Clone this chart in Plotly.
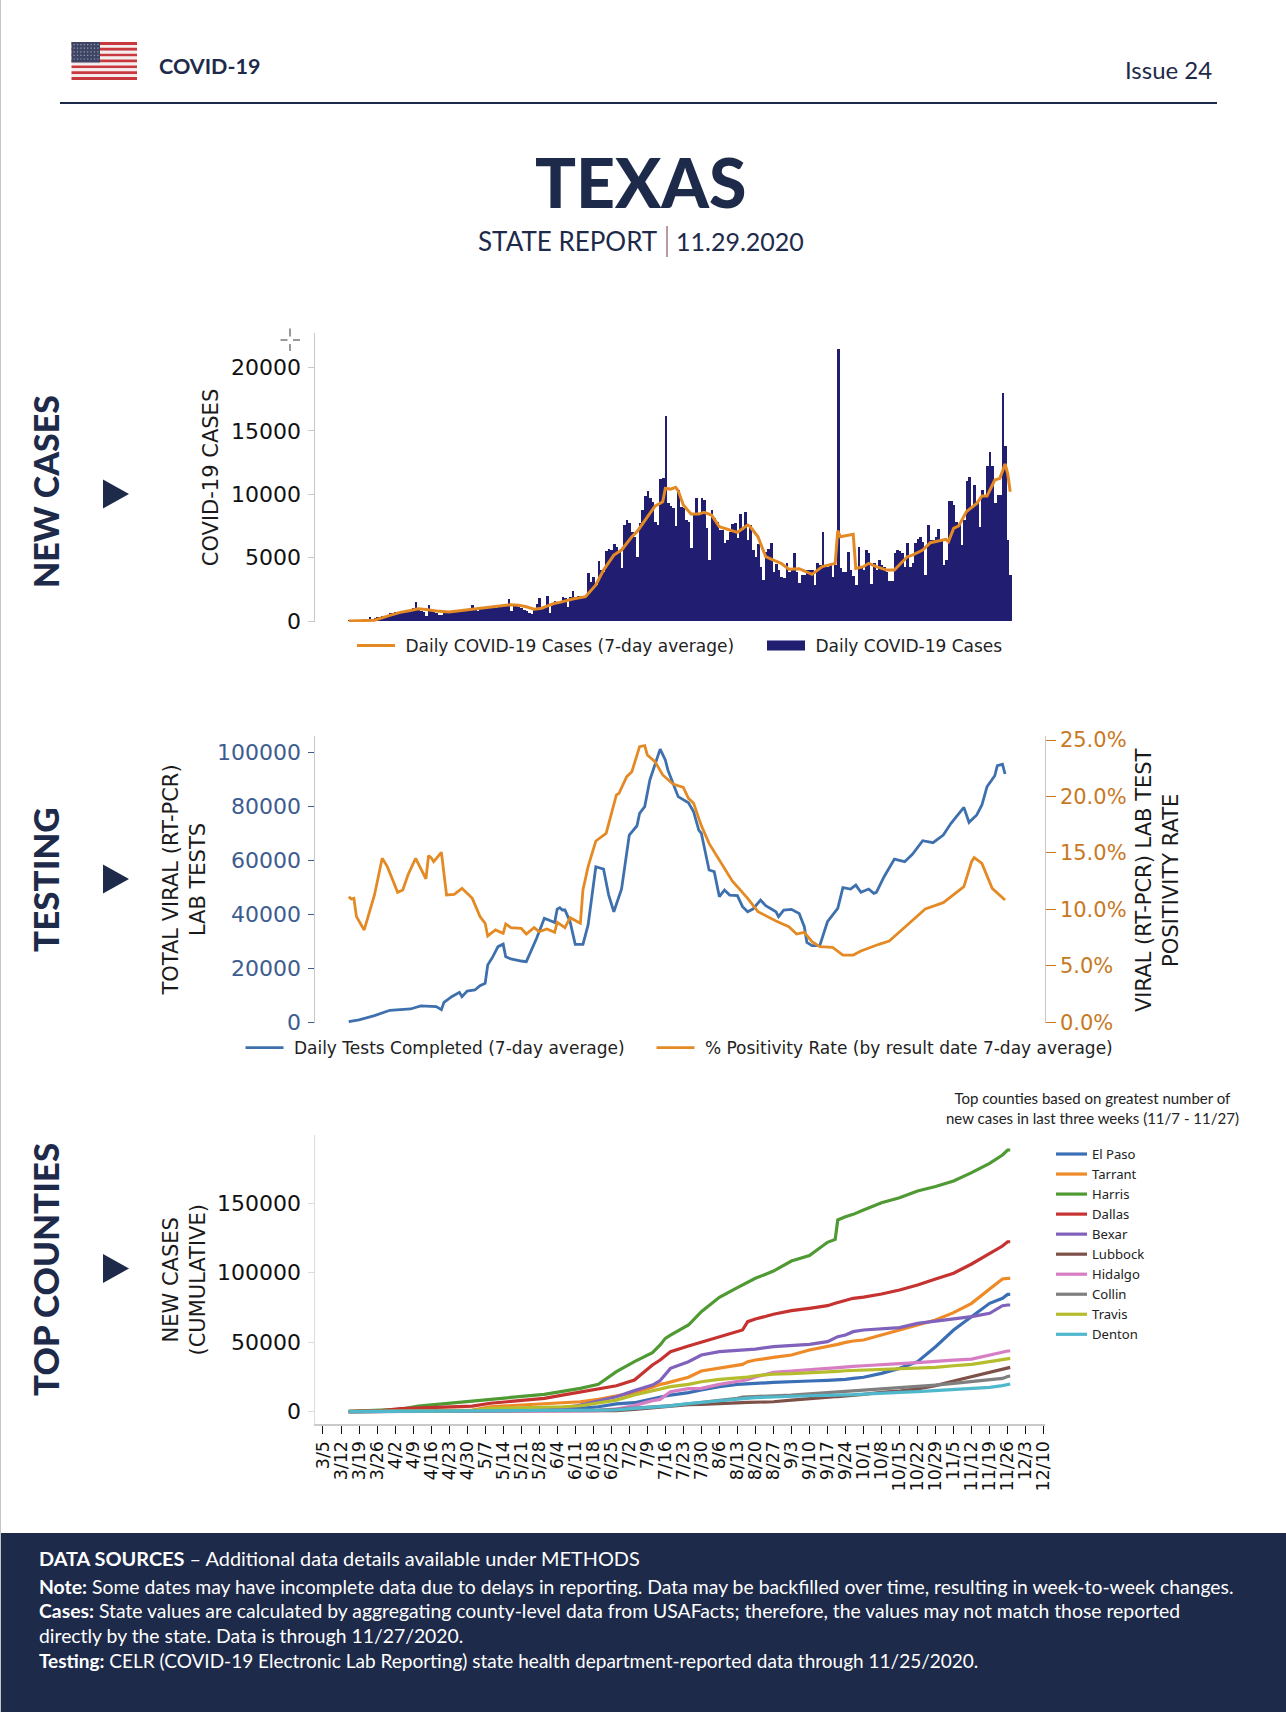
import pandas as pd
import plotly.graph_objects as go

W, H = 1286, 1712
START = pd.Timestamp("2020-03-05")

# ---------- data: days are counted from 3/5/2020 ----------
week_labels = ["3/5","3/12","3/19","3/26","4/2","4/9","4/16","4/23","4/30","5/7","5/14","5/21","5/28","6/4",
               "6/11","6/18","6/25","7/2","7/9","7/16","7/23","7/30","8/6","8/13","8/20","8/27","9/3","9/10",
               "9/17","9/24","10/1","10/8","10/15","10/22","10/29","11/5","11/12","11/19","11/26","12/3","12/10"]
positivity_tick_labels = ["0.0%","5.0%","10.0%","15.0%","20.0%","25.0%"]
positivity_tick_values = [0,5,10,15,20,25]

daily_cases_first_day = 10
daily_cases = [20,30,40,50,60,40,80,90,300,160,250,280,320,400,420,500,620,650,680,750,
 720,650,680,850,870,1000,1470,900,800,720,430,1240,800,780,650,470,450,800,780,720,
 760,900,850,870,900,900,950,980,1230,950,820,1050,1080,1100,1100,1150,1100,1020,1250,1230,
 1220,1280,1710,800,1180,1150,1100,1050,900,780,620,570,900,1380,1830,1050,1190,1960,660,1330,
 1600,1500,
 1525,1920,1790,1130,1920,2390,1920,2000,2000,1790,1920,3760,3100,3445,2840,4730,4020,3890,5550,5650,
 5600,6050,5810,5470,4155,7570,7970,7760,7050,6650,5075,7760,8760,9860,10280,9680,9415,7840,7570,11180,
 11260,16170,9285,9100,8890,7500,10335,9020,8890,7970,7840,5730,8495,9680,8495,9680,9550,7310,4810,8760,
 8100,7840,7180,7180,6130,6390,7050,7650,7700,6520,8440,7180,8630,6390,7570,5600,5075,6075,4290,3235,
 5470,5650,6130,3890,4500,4020,3445,3365,4550,3890,4020,5340,3890,2970,3630,3630,4020,4020,4020,2840,
 4550,4420,7050,4290,4290,4420,3500,4420,21500,4155,3890,3890,5470,4020,3550,2840,5865,4155,4020,5600,
 5340,2890,4550,4020,4810,4420,4290,3890,3180,3180,5340,5600,5550,5340,4290,6130,4290,4600,6130,6440,
 6600,6260,3630,7570,6390,6390,6650,7230,6390,4420,4810,9490,9490,9150,7840,7570,6000,7970,11070,11390,
 9020,10730,9285,7440,10340,9940,12230,13360,12230,9285,9940,9940,17960,13800,6390,3630]

case_avg_day = [10,18,20,25,30,34,37,40,44,49,55,60,65,70,73,76,79,82,85,87,90,92,97,102,106,109,113,116,120,122,
 126,129,132,133,135,137,138,140,143,146,148,151,154,156,159,161,165,166,169,172,175,178,181,185,190,194,
 199,200,201,206,207,210,212,215,219,222,227,229,233,236,242,243,245,247,250,254,256,258,261,263,265,266,267]
case_avg = [0,10,60,380,680,830,960,900,790,720,870,970,1080,1200,1290,1240,1120,930,1010,1180,1400,1470,1735,1920,2840,4020,
 5200,5600,6650,7050,8230,9070,9415,10470,10410,10550,10280,9150,8440,8440,8570,8360,7440,7310,7130,7000,7570,7440,6650,5075,4810,4550,4080,4130,3680,4290,
 4550,7130,6650,6840,4155,4290,4550,4290,4020,4020,5075,5200,5600,6180,6440,6260,7310,7500,8630,9285,9860,9860,11125,11260,12390,11650,10200]

tests_day = [10,14,20,26,34,38,44,46,47,50,53,54,56,59,61,63,64,66,68,70,71,73,77,79,83,86,87,90,91,92,93,94,96,98,100,101,103,106,109,111,113,115,116,119,122,123,125,127,129,131,133,134,138,
 142,144,146,147,150,152,154,156,158,161,163,165,167,170,172,176,177,179,182,185,187,188,190,193,196,200,202,205,207,209,212,214,215,218,222,226,229,233,237,241,244,249,251,254,256,258,261,262,264,265]
tests = [250,870,2470,4450,4940,6060,5810,4700,7400,9500,11100,9500,11600,12000,13600,14460,21260,24350,28060,29000,24350,23500,22740,22500,31150,38560,38200,37000,42000,42500,41650,41650,37300,28900,28900,28900,36100,57700,56850,47200,41000,47200,49440,69460,72900,77500,80000,89900,96000,101350,97300,93600,83700,
 81450,78100,71300,70100,56500,55900,46600,49070,47200,47000,42900,41000,42000,45360,43260,41000,39180,41650,41900,40400,35470,29660,28430,28430,37300,42270,49930,49440,50900,48200,49440,47830,48200,54000,60560,59570,62300,67360,66620,69460,73800,79720,74160,76900,80600,87400,91460,95200,95700,92100]

positivity_day = [10,11,12,13,16,18,20,23,25,29,31,33,36,40,41,42,43,46,48,51,54,58,61,63,64,67,70,71,73,77,79,82,84,87,90,91,94,96,100,101,103,106,110,114,115,118,120,123,125,126,129,132,136,140,
 142,144,147,150,156,159,165,169,176,181,184,187,190,193,198,202,206,209,216,220,227,234,241,249,252,253,256,260,265]
positivity = [11.13,10.92,10.98,9.36,8.18,9.8,11.28,14.53,13.79,11.51,11.72,13.05,14.53,12.7,14.76,14.59,14.23,15.06,11.28,11.34,11.87,10.98,9.36,8.77,7.65,8.18,7.88,8.71,8.39,8.33,7.82,8.39,8.03,8.27,7.97,8.86,8.39,9.27,8.77,11.72,13.79,16.06,16.74,20.14,20.28,21.76,22.2,24.42,24.5,23.68,23.09,21.91,21.11,20.8,
 19.84,19.4,17.42,15.85,13.64,12.52,10.98,9.8,8.98,8.47,7.82,7.97,7.15,6.7,6.64,5.96,5.96,6.32,6.91,7.2,8.62,10.04,10.6,12.02,14.23,14.59,14.08,11.87,10.84]

county_day = [10,16,22,30,37,44,51,58,65,72,79,86,93,100,107,114,121,128,131,133,135,142,
 147,154,161,163,165,168,175,182,189,196,199,200,203,206,210,217,224,231,238,245,252,259,264,266,267]
el_paso = [10,30,60,100,150,200,300,400,500,600,800,1150,1600,2350,3500,5500,6400,9500,10300,11200,11800,13600,
 15500,17900,19600,19900,20100,20300,21000,21300,22000,22500,22700,22700,23200,23900,24700,27500,31100,35900,46700,58700,68300,77900,81500,84300,84300]
tarrant = [50,150,300,500,700,850,1000,1150,3500,4200,5000,5500,6400,7100,8800,11200,13600,17500,19600,20300,21300,24700,
 29200,31100,33500,34000,35900,37100,39000,40700,44300,46700,47900,48400,49800,50800,51500,55100,58700,62800,65900,71200,77900,88200,95400,95900,95900]
harris = [100,500,1000,1600,4000,5200,6400,7100,8300,9500,11200,12400,14600,16700,19600,28700,36000,42400,48000,52700,55000,62300,
 71900,82200,89200,91100,93500,95900,101100,108300,112200,121800,123900,137900,140200,141900,145000,150300,153900,158700,161900,165900,171900,178600,184600,188200,188200]
dallas = [100,300,600,2100,2600,3000,3500,4000,6000,7100,8300,9500,11900,14300,16700,18600,22700,33500,37100,40000,43100,47200,
 49800,53900,57500,58700,64700,66600,70000,72600,74300,76200,77900,78400,79600,81500,82400,84600,87500,91100,95400,99500,106200,113900,119100,122200,122200]
bexar = [20,60,150,300,400,500,600,700,800,900,1000,1150,2300,4700,7900,10700,15100,19100,22300,27000,31100,35900,
 40700,43100,44100,44300,44300,45000,46700,47400,48400,50300,52700,53900,55100,57500,58700,59400,60400,63500,65200,67100,68300,70700,76200,76700,76700]
lubbock = [5,10,20,50,80,100,120,140,160,180,200,250,350,450,550,700,1600,2800,3200,3600,4000,5000,
 5200,6000,6400,6500,6600,6700,7100,8300,9500,10300,10700,10800,11200,11700,12400,13900,14800,16300,18700,22000,25100,28200,30400,31800,31800]
hidalgo = [5,10,20,40,60,80,100,120,140,160,180,200,300,450,700,1900,4300,7900,8800,11900,14300,16500,
 16700,19600,22000,22400,22900,24900,28200,29200,29900,31100,31500,31700,32100,32500,33000,34000,34500,35200,36400,37100,37800,40700,43100,43600,43600]
collin = [30,80,150,250,350,450,500,600,650,700,750,800,900,1000,1150,1600,2800,3500,3800,4000,4300,5500,
 6500,7600,9500,10500,10600,10900,11200,11900,12700,13600,13800,13900,14300,14600,15000,16200,17200,17900,19100,20300,21500,22700,23900,25300,25600]
travis = [20,60,120,250,400,500,600,800,2300,2500,2800,3100,3500,4200,6400,8300,11900,15100,16300,17500,18000,19600,
 21500,23200,23900,24300,24800,25800,27000,27300,27800,28700,28900,29000,29400,29600,29900,30400,31100,31600,31800,33000,34000,35900,37400,38300,38300]
denton = [20,60,120,200,300,350,400,450,500,550,600,700,800,950,1100,1150,2300,3300,3500,3800,4100,5800,
 6600,7800,9000,9200,9400,10000,10500,11200,11400,11700,11750,11800,11900,12200,12600,13400,13900,14300,15000,15500,16200,17400,18700,19600,19900]

county_names = ["El Paso","Tarrant","Harris","Dallas","Bexar","Lubbock","Hidalgo","Collin","Travis","Denton"]
county_values = [el_paso,tarrant,harris,dallas,bexar,lubbock,hidalgo,collin,travis,denton]
county_colors = ["#3b6fb5","#ee8a27","#4f9a33","#c5322f","#8062bd","#7d5148","#d77dc3","#7f7f7f","#b5bd2c","#4fb8cd"]

for a, b in [(case_avg_day, case_avg), (tests_day, tests), (positivity_day, positivity)] + [(county_day, v) for v in county_values]:
    assert len(a) == len(b), (len(a), len(b))

# ---------- styles ----------
NAVY = "#1e2a4a"
BAR = "#211d70"
ORANGE = "#e48a25"
BLUE = "#3f70ae"
SANS = "Lato, 'Noto Sans', sans-serif"
DEJA = "DejaVu Sans"
SPINE = "#c9c9c9"

def dates(days):
    return [START + pd.Timedelta(days=float(d)) for d in days]

def px(x): return x / W
def py(y): return 1 - y / H

X_LEFT, X_RIGHT = 314.5, 1044.7
x_range = dates([-3.3, 280.4])
NB = "\u00a0"

fig = go.Figure()

# panel 1
fig.add_trace(go.Scatter(x=dates(case_avg_day), y=case_avg, mode="lines", name=NB + "Daily COVID-19 Cases (7-day average)",
                         line=dict(color=ORANGE, width=3), xaxis="x", yaxis="y", legend="legend"))
fig.add_trace(go.Bar(x=dates(range(daily_cases_first_day, daily_cases_first_day + len(daily_cases))), y=daily_cases,
                     name="Daily COVID-19 Cases", marker=dict(color=BAR, line=dict(width=0)), xaxis="x", yaxis="y",
                     showlegend=False))
# legend key for the bars: a wide patch like the reference (no data of its own)
fig.add_trace(go.Scatter(x=[None], y=[None], mode="lines", name=NB + "Daily COVID-19 Cases",
                         line=dict(color=BAR, width=12), xaxis="x", yaxis="y", legend="legend4"))
# panel 2
fig.add_trace(go.Scatter(x=dates(tests_day), y=tests, mode="lines", name=NB + "Daily Tests Completed (7-day average)",
                         line=dict(color=BLUE, width=2.8), xaxis="x2", yaxis="y2", legend="legend2"))
fig.add_trace(go.Scatter(x=dates(positivity_day), y=positivity, mode="lines", name=NB + "% Positivity Rate (by result date 7-day average)",
                         line=dict(color=ORANGE, width=2.8), xaxis="x2", yaxis="y3", legend="legend5"))
# panel 3
for name, vals, col in zip(county_names, county_values, county_colors):
    fig.add_trace(go.Scatter(x=dates(county_day), y=vals, mode="lines", name=name,
                             line=dict(color=col, width=3.2), xaxis="x3", yaxis="y4", legend="legend3"))

dom_x = [px(X_LEFT), px(X_RIGHT)]
hidden_x = dict(type="date", range=x_range, domain=dom_x, visible=False, fixedrange=True)
tick_font = dict(family=DEJA, size=22, color="#111111")
title_font = dict(family=DEJA, size=21, color="#1a1a1a")
legend_font = dict(family=DEJA, size=17, color="#222222")

def one_item_legend(x, y):
    return dict(orientation="h", x=px(x), y=py(y), xanchor="left", yanchor="middle", font=legend_font,
                itemwidth=38, bgcolor="rgba(0,0,0,0)")

layout = dict(
    width=W, height=H, margin=dict(l=0, r=0, t=0, b=0, autoexpand=False), paper_bgcolor="white", plot_bgcolor="rgba(0,0,0,0)",
    bargap=0, showlegend=True, hovermode=False,
    xaxis=dict(anchor="y", **hidden_x),
    yaxis=dict(domain=[py(622), py(333)], range=[-79, 22730], tickvals=[0,5000,10000,15000,20000], tickformat="d",
               tickfont=tick_font, ticks="outside", ticklen=6, tickcolor=SPINE, ticklabelstandoff=2, showline=True, linecolor=SPINE, linewidth=1,
               showgrid=False, zeroline=False, anchor="x",
               title=dict(text="COVID-19 CASES", font=title_font, standoff=6)),
    xaxis2=dict(anchor="y2", **hidden_x),
    yaxis2=dict(domain=[py(1023), py(736)], range=[-260, 106200], tickvals=[0,20000,40000,60000,80000,100000], tickformat="d",
                tickfont=dict(family=DEJA, size=22, color="#3d5c8f"), ticks="outside", ticklen=6, tickcolor="#3d5c8f", ticklabelstandoff=2,
                showline=True, linecolor=SPINE, linewidth=1, showgrid=False, zeroline=False, anchor="x2",
                title=dict(text="TOTAL VIRAL (RT-PCR)<br>LAB TESTS", font=title_font, standoff=5)),
    yaxis3=dict(domain=[py(1023), py(736)], range=[-0.06, 25.36], overlaying="y2", side="right", anchor="x2",
                tickmode="array", tickvals=positivity_tick_values, ticktext=positivity_tick_labels,
                tickfont=dict(family=DEJA, size=21, color="#c8791f"), ticks="outside", ticklen=10, tickcolor="#c8791f",
                showline=True, linecolor=SPINE, linewidth=1, showgrid=False, zeroline=False),
    xaxis3=dict(type="date", range=x_range, domain=dom_x, anchor="y4", fixedrange=True,
                tickmode="array", tickvals=dates(range(0, 7 * len(week_labels), 7)), ticktext=week_labels, tickangle=-90,
                tickfont=dict(family=DEJA, size=17.5, color="#111111"), ticks="outside", ticklen=8, tickcolor="#111111",
                showline=True, linecolor=SPINE, linewidth=1.5, showgrid=False, zeroline=False),
    yaxis4=dict(domain=[py(1424.3), py(1135.3)], range=[-9140, 198780], tickvals=[0,50000,100000,150000], tickformat="d",
                tickfont=tick_font, ticks="outside", ticklen=6, tickcolor="#dddddd", ticklabelstandoff=2, showline=True, linecolor="#dddddd", linewidth=1,
                showgrid=False, zeroline=False, anchor="x3",
                title=dict(text="NEW CASES<br>(CUMULATIVE)", font=title_font, standoff=5)),
    legend=one_item_legend(352, 646),
    legend4=one_item_legend(762, 646),
    legend2=one_item_legend(240.5, 1048),
    legend5=one_item_legend(651.5, 1048),
    legend3=dict(x=px(1051), y=py(1139), xanchor="left", yanchor="top", font=dict(family="Noto Sans", size=13.1, color="#222222"),
                 itemwidth=31, bgcolor="rgba(0,0,0,0)", traceorder="normal"),
)

# ---------- page furniture ----------
def rect(x0, y0, x1, y1, color):
    return dict(type="rect", xref="paper", yref="paper", x0=px(x0), x1=px(x1), y0=py(y0), y1=py(y1),
                fillcolor=color, line=dict(width=0), layer="below")
def line(x0, y0, x1, y1, color, width=1, dash=None):
    return dict(type="line", xref="paper", yref="paper", x0=px(x0), x1=px(x1), y0=py(y0), y1=py(y1),
                line=dict(color=color, width=width, dash=dash or "solid"), layer="above")
def tri(cy):
    return dict(type="path", xref="paper", yref="paper",
                path=f"M {px(103)} {py(cy-14.5)} L {px(129)} {py(cy)} L {px(103)} {py(cy+14.5)} Z",
                fillcolor=NAVY, line=dict(width=0))

CROSS = "#555555"
shapes = [line(0.5, 0, 0.5, H, "#c4c4c4", 1), line(60, 103, 1217, 103, NAVY, 2.2), rect(1, 1533, W, H, NAVY),
          line(667, 226, 667, 257, "#7a3048", 1), tri(494), tri(879), tri(1268.5),
          line(290, 328.5, 290, 336.5, CROSS, 1.2), line(290, 344, 290, 351, CROSS, 1.2),
          line(280.5, 340, 287.5, 340, CROSS, 1.2), line(293, 340, 300, 340, CROSS, 1.2)]
# flag: 13 stripes, a canton and rows of small star dots
fx0, fx1, fy0, fy1 = 71.5, 137, 42, 80
sh = (fy1 - fy0) / 13
for i in range(13):
    shapes.append(rect(fx0, fy0 + i * sh, fx1, fy0 + (i + 1) * sh, "#c8393f" if i % 2 == 0 else "#f4eeee"))
shapes.append(rect(fx0, fy0, 100, fy0 + 7 * sh, "#3d4464"))
for r in range(6):
    for c in range(8):
        sx = fx0 + 2 + c * 3.4
        sy = fy0 + 2 + r * 3.6
        shapes.append(rect(sx, sy, sx + 1.2, sy + 1.2, "#9aa0b4"))
layout["shapes"] = shapes

def note(text, x, y, size, color=NAVY, family=SANS, xanchor="left", angle=0, yanchor="middle", align=None, weight=None):
    f = dict(family=family, size=size, color=color)
    if weight:
        f["weight"] = weight
    return dict(text=text, x=px(x), y=py(y), xref="paper", yref="paper", showarrow=False, xanchor=xanchor, yanchor=yanchor,
                font=f, textangle=angle, align=align or xanchor, borderpad=0, borderwidth=0)

WHITE = "#ffffff"
layout["annotations"] = [
    note("<b>COVID-19</b>", 159, 66, 21.5),
    note("Issue 24", 1212, 70, 24, xanchor="right"),
    note("TEXAS", 641, 181, 68, xanchor="center", weight=900),
    note("STATE REPORT", 657, 241, 26, xanchor="right"),
    note("11.29.2020", 676, 241, 25),
    note("NEW CASES", 45, 492, 34, xanchor="center", angle=-90, weight=900),
    note("TESTING", 45, 880, 35, xanchor="center", angle=-90, weight=900),
    note("TOP COUNTIES", 45, 1270, 35, xanchor="center", angle=-90, weight=900),
    note("VIRAL (RT-PCR) LAB TEST<br>POSITIVITY RATE", 1158, 880, 21, color="#1a1a1a", family=DEJA, xanchor="center", angle=-90, align="center"),
    note("Top counties based on greatest number of<br>new cases in last three weeks (11/7 - 11/27)", 1092, 1108, 15, color="#222222", xanchor="center", align="center"),
    note("<b>DATA SOURCES</b> – Additional data details available under METHODS", 39, 1558, 19.9, color=WHITE),
    note("<b>Note:</b> Some dates may have incomplete data due to delays in reporting. Data may be backfilled over time, resulting in week-to-week changes.", 39, 1586, 19.38, color=WHITE),
    note("<b>Cases:</b> State values are calculated by aggregating county-level data from USAFacts; therefore, the values may not match those reported", 39, 1610, 19.38, color=WHITE),
    note("directly by the state. Data is through 11/27/2020.", 39, 1635, 19.38, color=WHITE),
    note("<b>Testing:</b> CELR (COVID-19 Electronic Lab Reporting) state health department-reported data through 11/25/2020.", 39, 1660, 19, color=WHITE),
]

fig.update_layout(**layout)
fig.write_html("out.html", config=dict(displayModeBar=False, responsive=False),
               post_script="document.body.style.margin='0';document.body.style.overflow='hidden';")
